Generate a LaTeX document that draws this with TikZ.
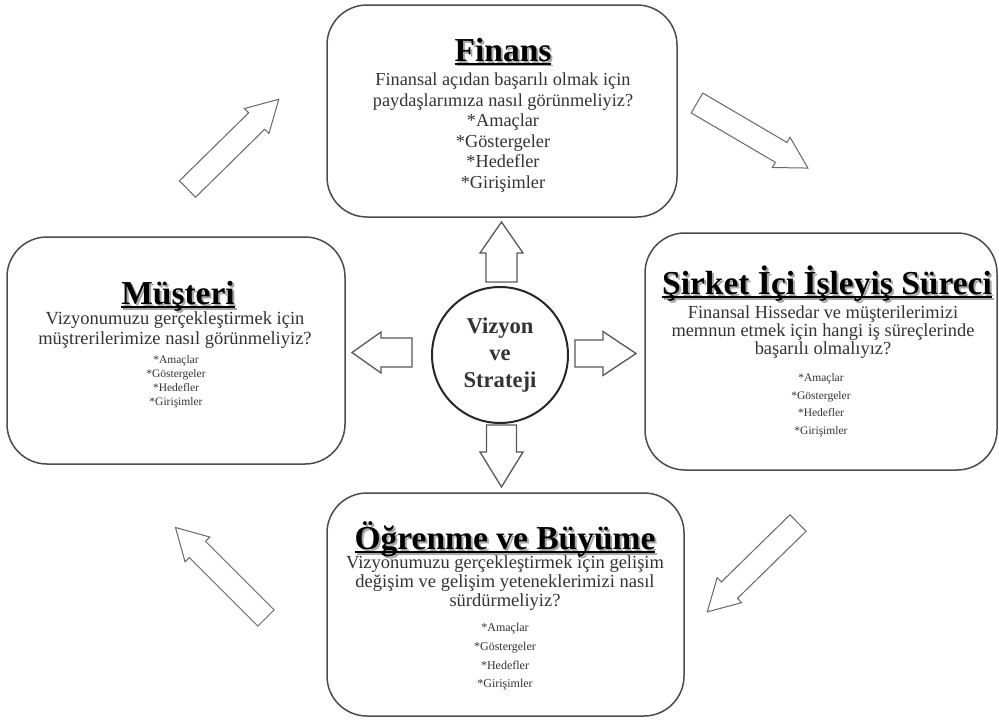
\documentclass[tikz,border=0pt]{standalone}
\usepackage{fontspec}
\setmainfont{Liberation Serif}
\newcommand\myul[1]{\setbox0\hbox{#1}\rlap{\rule[-3.5pt]{\wd0}{1.8pt}}\box0}
\newcommand\blkarrow[7]{\begin{scope}[shift={(#1,#2)},rotate=#3]
\draw[barrow] (0,-#5) -- ({#4-#7},-#5) -- ({#4-#7},-#6) -- (#4,0) -- ({#4-#7},#6) -- ({#4-#7},#5) -- (0,#5) -- cycle;
\end{scope}}
\tikzset{
 box/.style={draw=black!70, line width=1.5pt, rounded corners=40pt},
 ttl/.style={font=\fontsize{33.5}{36}\selectfont\bfseries, inner sep=0pt, anchor=base},
 shd/.style={ttl, text=black!35},
 body/.style={align=center, inner sep=0pt, text=black!80},
 barrow/.style={draw=black!60, line width=1pt, fill=white, line join=miter},
 cardarrow/.style={draw=black!65, line width=1.3pt},
}
\begin{document}
\begin{tikzpicture}[x=1pt,y=-1pt]
\useasboundingbox[fill=white] (0,0) rectangle (999,720);
% boxes
\node[box, minimum width=350pt, minimum height=212pt] (fin) at (502,111) {};
\node[box, minimum width=338pt, minimum height=227pt] (mus) at (176,350.5) {};
\node[box, minimum width=352pt, minimum height=237pt] (sir) at (821,351.5) {};
\node[box, minimum width=357pt, minimum height=223pt] (ogr) at (505.5,604.5) {};
% centre
\node[circle, draw=black!85, line width=2pt, minimum size=136pt, align=center, text=black!80,
  font=\fontsize{22.6}{27}\selectfont\bfseries] (vis) at (500,355) {Vizyon\\ve\\Strateji};
% Finans
\node[shd] (finS) at (505,63) {\myul{Finans}};
\node[ttl] (finT) at (503,61) {\myul{Finans}};
\node[body, font=\fontsize{18.3}{20.6}\selectfont] (finB) at (503,132.5) {Finansal açıdan başarılı olmak için\\paydaşlarımıza nasıl görünmeliyiz?\\*Amaçlar\\*Göstergeler\\*Hedefler\\*Girişimler};
% Musteri
\node[shd] (musS) at (180,306) {\myul{Müşteri}};
\node[ttl] (musT) at (178,304) {\myul{Müşteri}};
\node[body, font=\fontsize{18.5}{20}\selectfont] (musB) at (175,330) {Vizyonumuzu gerçekleştirmek için\\müştrerilerimize nasıl görünmeliyiz?};
\node[body, font=\fontsize{11.5}{14}\selectfont] (musI) at (176,381.5) {*Amaçlar\\*Göstergeler\\*Hedefler\\*Girişimler};
% Sirket
\node[shd] (sirS) at (829,296) {\myul{Şirket İçi İşleyiş Süreci}};
\node[ttl] (sirT) at (827,294) {\myul{Şirket İçi İşleyiş Süreci}};
\node[body, font=\fontsize{18.4}{18}\selectfont] (sirB) at (823,332.5) {Finansal Hissedar ve müşterilerimizi\\memnun etmek için hangi iş süreçlerinde\\başarılı olmalıyız?};
\node[body, font=\fontsize{11.5}{17.5}\selectfont] (sirI) at (821,405) {*Amaçlar\\*Göstergeler\\*Hedefler\\*Girişimler};
% Ogrenme
\node[shd] (ogrS) at (507,551) {\myul{Öğrenme ve Büyüme}};
\node[ttl] (ogrT) at (505,549) {\myul{Öğrenme ve Büyüme}};
\node[body, font=\fontsize{18.5}{19}\selectfont] (ogrB) at (505,583) {Vizyonumuzu gerçekleştirmek için gelişim\\değişim ve gelişim yeteneklerimizi nasıl\\sürdürmeliyiz?};
\node[body, font=\fontsize{12}{18.7}\selectfont] (ogrI) at (505,657) {*Amaçlar\\*Göstergeler\\*Hedefler\\*Girişimler};
% diagonal block arrows
\blkarrow{187.5}{189}{44.5}{128}{11.5}{17.5}{31}
\blkarrow{697}{103}{-30.4}{128.6}{11.5}{17.5}{31}
\blkarrow{798}{523}{-135.6}{127}{11.5}{17.5}{31}
\blkarrow{266}{618}{135}{128}{11.5}{17.5}{31}
% cardinal block arrows
\begin{scope}[barrow/.append style={cardarrow}]
\blkarrow{501.5}{282}{90}{60}{15.5}{21.5}{31}
\blkarrow{501.5}{425}{-90}{62}{15}{21.5}{35}
\blkarrow{412}{352.5}{180}{60}{14.5}{20.5}{29}
\blkarrow{575}{353.5}{0}{61}{13.5}{22}{33}
\end{scope}
\end{tikzpicture}
\end{document}
